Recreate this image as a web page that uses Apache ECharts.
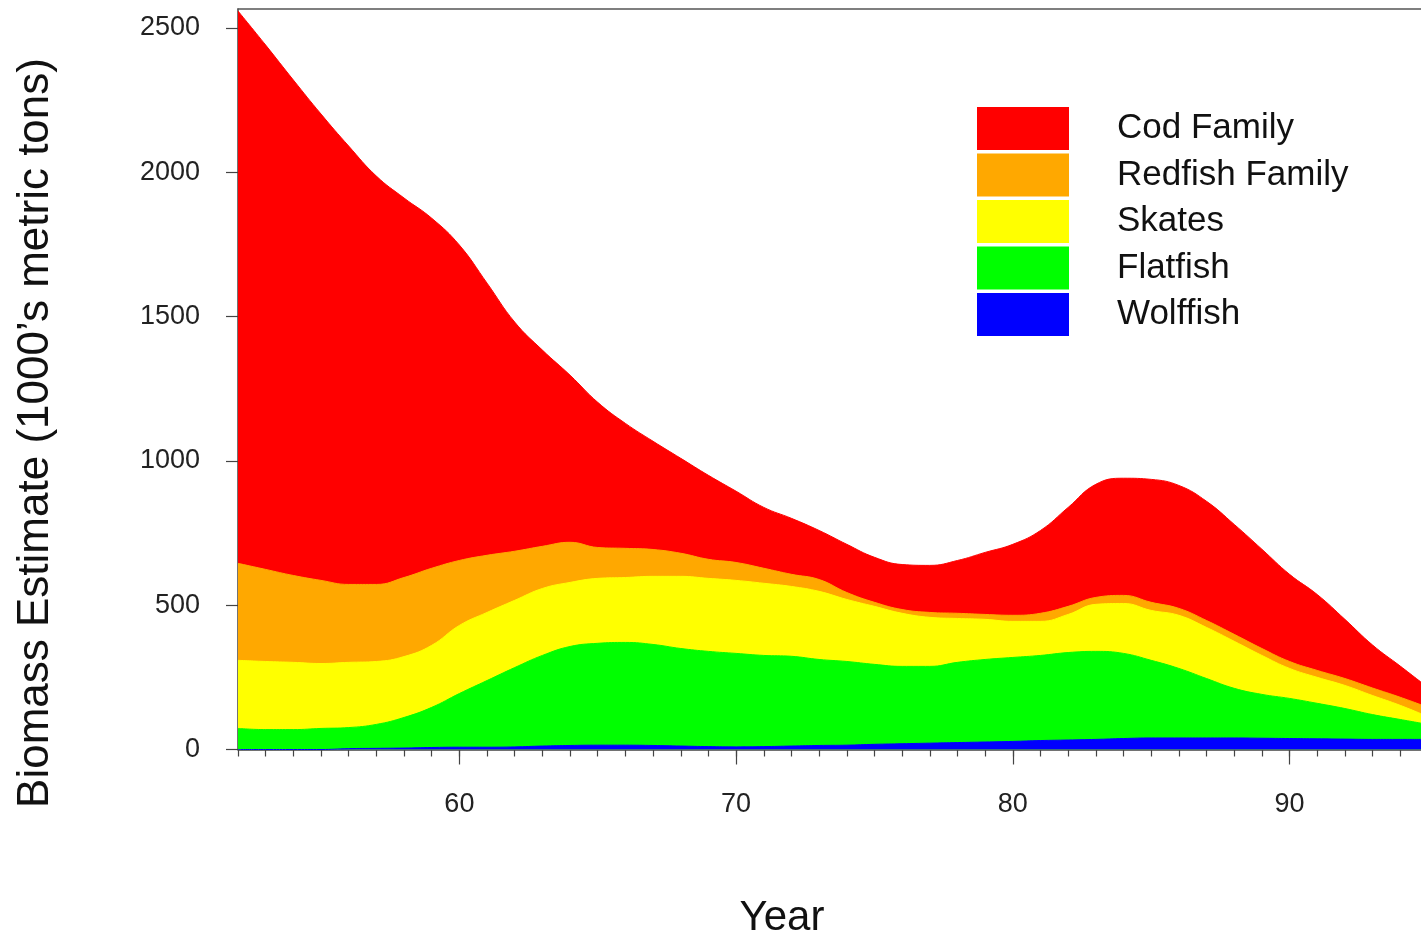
<!DOCTYPE html>
<html>
<head>
<meta charset="utf-8">
<script src="https://cdn.jsdelivr.net/npm/echarts@6/dist/echarts.min.js"></script>
<style>
  html, body { margin: 0; padding: 0; background: #ffffff; }
  #chart { width: 1421px; height: 939px; }
</style>
</head>
<body>
<div id="chart"></div>
<script>
// Survey years (19xx)
const years = [52, 53, 54, 55, 56, 57, 58, 59, 60, 61, 62, 63, 64, 65, 66, 67, 68, 69, 70, 71, 72, 73,
               74, 75, 76, 77, 78, 79, 80, 81, 82, 83, 84, 85, 86, 87, 88, 89, 90, 91, 92, 93, 94, 95];

// Biomass estimates by group, 1000's metric tons (layered bottom to top: wolffish .. cod)
const wolffish = [0, 0, 0, 0, 3, 4, 5, 7, 8, 8, 9, 12, 14, 15, 15, 14, 12, 10, 9, 10, 12, 14,
                  15, 18, 20, 22, 24, 26, 28, 31, 33, 35, 38, 40, 40, 40, 40, 39, 38, 37, 36, 35, 35, 35];
const flatfish = [73, 69, 69, 73, 73, 83, 106, 139, 186, 231, 275, 314, 343, 353, 356, 350, 338, 330, 324, 316, 311, 298,
                  290, 277, 268, 266, 278, 286, 291, 295, 303, 305, 295, 269, 241, 206, 172, 152, 139, 123, 106, 86, 69, 52];
const skates = [236, 236, 233, 225, 226, 218, 211, 215, 236, 236, 233, 232, 222, 225, 225, 236, 250, 253, 253, 250, 242, 236,
                215, 201, 184, 170, 152, 139, 125, 118, 132, 163, 173, 173, 184, 177, 163, 135, 104, 90, 80, 66, 49, 27];
const redfish = [336, 319, 301, 288, 270, 267, 274, 267, 225, 198, 170, 146, 139, 107, 101, 93, 80, 66, 62, 52, 42, 41,
                 24, 14, 13, 17, 18, 17, 21, 28, 28, 24, 28, 28, 24, 24, 24, 24, 24, 24, 24, 26, 28, 32];
const cod = [1914, 1817, 1717, 1616, 1519, 1415, 1315, 1213, 1093, 943, 794, 680, 579, 503, 433, 375, 329, 291, 247, 211, 194, 170,
             167, 156, 156, 163, 183, 215, 246, 287, 343, 392, 406, 426, 426, 413, 381, 344, 302, 263, 205, 149, 108, 69];

// Axis ticks and labels
const xTickValues = [52, 53, 54, 55, 56, 57, 58, 59, 60, 61, 62, 63, 64, 65, 66, 67, 68, 69, 70, 71, 72, 73,
                     74, 75, 76, 77, 78, 79, 80, 81, 82, 83, 84, 85, 86, 87, 88, 89, 90, 91, 92, 93, 94];
const xLabelValues = [60, 70, 80, 90];
const yTickValues = [0, 500, 1000, 1500, 2000, 2500];

const groupNames = ['Cod Family', 'Redfish Family', 'Skates', 'Flatfish', 'Wolffish'];
const groupColors = {
  'Cod Family': '#ff0000',
  'Redfish Family': '#ffa800',
  'Skates': '#ffff00',
  'Flatfish': '#00ff00',
  'Wolffish': '#0000ff'
};
// bottom layer first
const layers = [
  ['Wolffish', wolffish],
  ['Flatfish', flatfish],
  ['Skates', skates],
  ['Redfish Family', redfish],
  ['Cod Family', cod]
];

// Running totals: each band is drawn as the area from zero up to the top of its layer,
// painted from the tallest (cod) down so the lower layers sit on top.
const running = years.map(() => 0);
const tops = layers.map(([name, values]) => {
  const top = values.map((v, i) => (running[i] += v));
  return [name, top];
});

const FONT = '"Liberation Sans", Arial, Helvetica, sans-serif';
const AXIS_COLOR = '#444444';

const series = tops.slice().reverse().map(([name, top]) => ({
  name: name,
  type: 'line',
  smooth: 0.45,
  symbol: 'none',
  clip: true,
  data: years.map((y, i) => [y, top[i]]),
  lineStyle: { width: 1, color: groupColors[name] },
  itemStyle: { color: groupColors[name] },
  areaStyle: { color: groupColors[name], opacity: 1, origin: 'start' },
  emphasis: { disabled: true },
  xAxisIndex: 0,
  yAxisIndex: 0
}));

const chart = echarts.init(document.getElementById('chart'), null, { renderer: 'canvas' });

const X_MIN = 52, X_MAX = 94.75;

chart.setOption({
  animation: false,
  backgroundColor: '#ffffff',
  grid: { left: 238, right: 0, top: 9, bottom: 189.5, show: false },
  xAxis: [
    {
      type: 'value', position: 'bottom', min: X_MIN, max: X_MAX, interval: 1,
      axisLine: { show: true, onZero: false, lineStyle: { color: AXIS_COLOR, width: 1.5 } },
      axisTick: { show: true, customValues: xTickValues, length: 7, lineStyle: { color: AXIS_COLOR, width: 1.2 } },
      axisLabel: {
        customValues: xLabelValues, formatter: v => String(v),
        fontSize: 27, color: '#222222', fontFamily: FONT, margin: 42
      },
      splitLine: { show: false }
    },
    {
      // long ticks at the labelled decades
      type: 'value', position: 'bottom', min: X_MIN, max: X_MAX,
      axisLine: { show: false, onZero: false },
      axisTick: { show: true, customValues: xLabelValues, length: 15, lineStyle: { color: AXIS_COLOR, width: 1.2 } },
      axisLabel: { show: false },
      splitLine: { show: false }
    },
    {
      // frame line along the top of the plot
      type: 'value', position: 'top', min: X_MIN, max: X_MAX,
      axisLine: { show: true, onZero: false, lineStyle: { color: '#555555', width: 1.5 } },
      axisTick: { show: false },
      axisLabel: { show: false },
      splitLine: { show: false }
    }
  ],
  yAxis: {
    type: 'value', min: 0, max: 2566,
    axisLine: { show: true, onZero: false, lineStyle: { color: AXIS_COLOR, width: 1.5 } },
    axisTick: { show: true, customValues: yTickValues, length: 12, lineStyle: { color: AXIS_COLOR, width: 1.2 } },
    axisLabel: {
      customValues: yTickValues, formatter: v => String(v),
      fontSize: 27, color: '#222222', fontFamily: FONT, margin: 38
    },
    splitLine: { show: false }
  },
  legend: {
    data: groupNames,
    orient: 'vertical',
    left: 972, top: 102,
    itemWidth: 92, itemHeight: 43, itemGap: 3.5,
    icon: 'rect',
    selectedMode: false,
    textStyle: { fontSize: 35, color: '#111111', fontFamily: FONT, padding: [0, 0, 0, 43] }
  },
  graphic: [
    {
      type: 'text', x: 36, y: 433, rotation: Math.PI / 2,
      style: {
        text: 'Biomass Estimate (1000\u2019s metric tons)',
        fontSize: 44, fontFamily: FONT, fill: '#111111',
        align: 'center', verticalAlign: 'middle'
      }
    },
    {
      type: 'text', x: 782, y: 918,
      style: {
        text: 'Year', fontSize: 42, fontFamily: FONT, fill: '#111111',
        align: 'center', verticalAlign: 'middle'
      }
    }
  ],
  series: series
});
</script>
</body>
</html>
